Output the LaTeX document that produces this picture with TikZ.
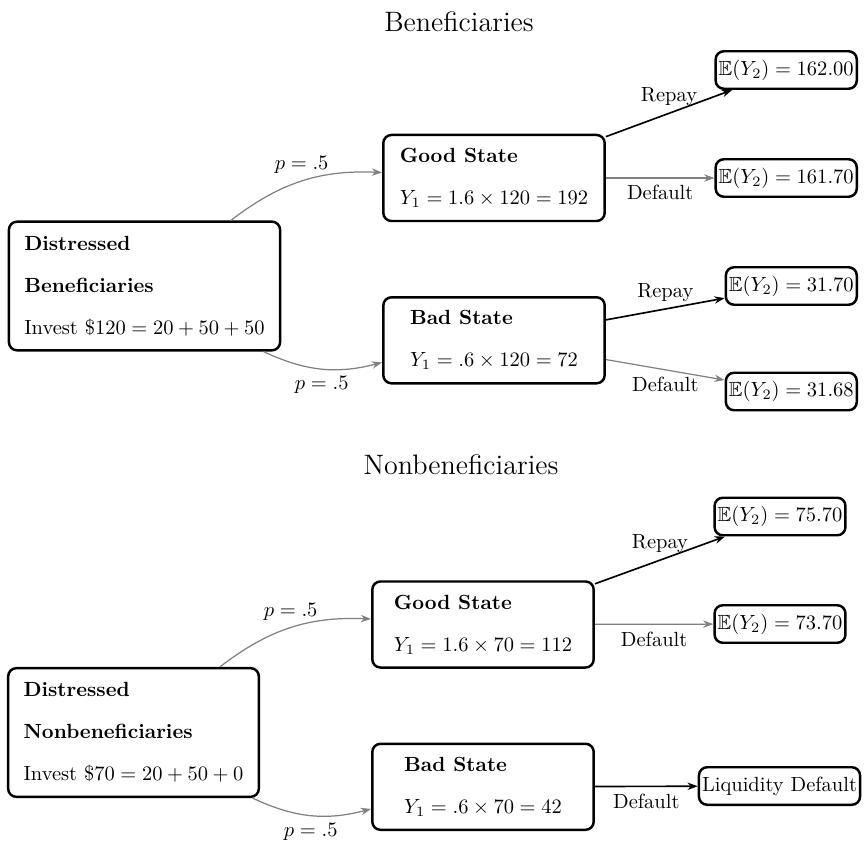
\documentclass[tikz,border=0pt]{standalone}
\usepackage{amsmath}
\usepackage{amssymb}
\usepackage{tikz}
\usetikzlibrary{positioning,arrows.meta}

\begin{document}
\begin{tikzpicture}[
  x=0.4878pt, y=-0.4878pt,
  >={Stealth[length=5pt,width=3.6pt]},
  heading/.style={font=\fontsize{13.7}{16}\selectfont},
  firm/.style={rectangle, rounded corners, draw, very thick, align=left,
               inner xsep=7.5pt, inner ysep=7pt},
  state/.style={rectangle, rounded corners, draw, very thick, align=left,
                minimum width=108pt, inner xsep=8pt, inner ysep=6.5pt},
  outcome/.style={rectangle, rounded corners, draw, very thick,
                  inner xsep=1.5pt, minimum height=18.3pt},
  prob/.style={->, draw=gray, semithick},
  repay/.style={->, thick},
  dflt/.style={->, draw=gray, semithick}
]
\useasboundingbox (0,0) rectangle (865,843);
% beneficiaries
\node[heading] (tb) at (459,22) {Beneficiaries};
\node[firm] (db) at (144.5,286) {\textbf{Distressed}\\[8.5pt] \textbf{Beneficiaries}\\[8.5pt] Invest $\$120 = 20 + 50 + 50$};
\node[state] (gs) at (494,178) {\textbf{Good State}\\[8.5pt] $Y_1 = 1.6 \times 120 = 192$};
\node[state, below=36pt of gs] (bs) {\textbf{Bad State}\\[8.5pt] $Y_1 = .6 \times 120 = 72$};
\node[outcome, anchor=east] (e1) at (858,70) {$\mathbb{E}(Y_2) = 162.00$};
\node[outcome, anchor=east] (e2) at (858,178) {$\mathbb{E}(Y_2) = 161.70$};
\node[outcome, anchor=east] (e3) at (858,286) {$\mathbb{E}(Y_2) = 31.70$};
\node[outcome, anchor=east] (e4) at (858,391.5) {$\mathbb{E}(Y_2) = 31.68$};
\draw[prob] (db) to[bend left=20] node[above] {$p = .5$} (gs);
\draw[prob] (db) to[bend right=20] node[below] {$p = .5$} (bs);
\draw[repay] (gs) -- node[above] {Repay} (e1);
\draw[dflt] (gs) -- node[below] {Default} (e2);
\draw[repay] (bs) -- node[above] {Repay} (e3);
\draw[dflt] (bs) -- node[below] {Default} (e4);
% nonbeneficiaries
\node[heading] (tn) at (461,465) {Nonbeneficiaries};
\node[firm] (dn) at (133.5,732.5) {\textbf{Distressed}\\[8.5pt] \textbf{Nonbeneficiaries}\\[8.5pt] Invest $\$70 = 20 + 50 + 0$};
\node[state] (gn) at (483,624.5) {\textbf{Good State}\\[8.5pt] $Y_1 = 1.6 \times 70 = 112$};
\node[state, below=36pt of gn] (bn) {\textbf{Bad State}\\[8.5pt] $Y_1 = .6 \times 70 = 42$};
\node[outcome] (f1) at (780,516.5) {$\mathbb{E}(Y_2) = 75.70$};
\node[outcome] (f2) at (780,624) {$\mathbb{E}(Y_2) = 73.70$};
\node[outcome] (ld) at (779.5,786) {Liquidity Default};
\draw[prob] (dn) to[bend left=20] node[above] {$p = .5$} (gn);
\draw[prob] (dn) to[bend right=20] node[below] {$p = .5$} (bn);
\draw[repay] (gn) -- node[above] {Repay} (f1);
\draw[dflt] (gn) -- node[below] {Default} (f2);
\draw[repay] (bn) -- node[below] {Default} (ld);
\end{tikzpicture}
\end{document}
